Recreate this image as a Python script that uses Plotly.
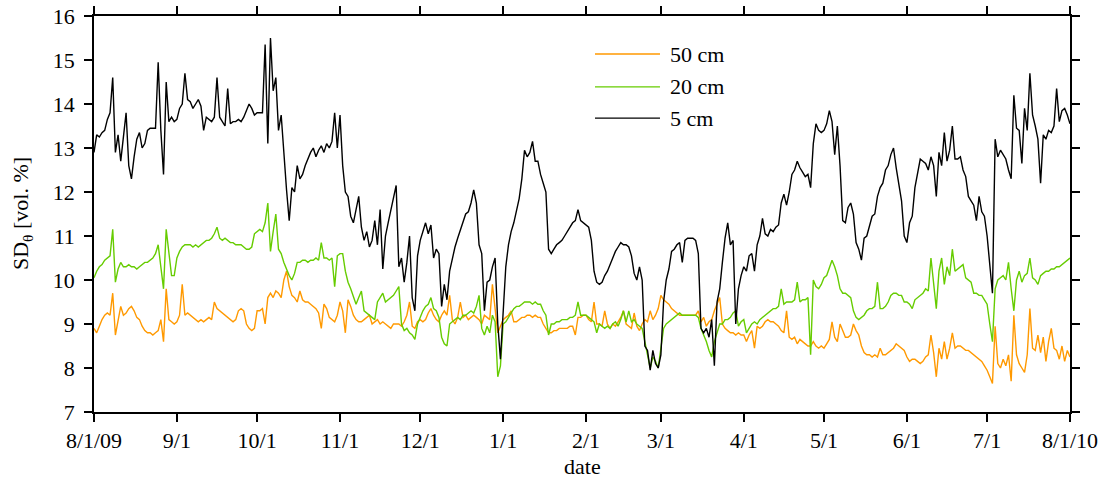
import pandas as pd
import plotly.graph_objects as go

# Daily soil-moisture standard deviation, 1 Aug 2009 - 1 Aug 2010
dates = pd.date_range("2009-08-01", "2010-08-01", freq="D")

sd_5cm = [
    12.9, 13.3, 13.25, 13.35, 13.4, 13.65, 13.8, 14.6, 12.9, 13.3,
    12.7, 13.3, 13.8, 12.6, 12.3, 12.8, 13.2, 13.35, 13.0, 13.1,
    13.4, 13.45, 13.45, 13.45, 14.95, 13.4, 12.4, 14.5, 13.6, 13.7,
    13.6, 13.65, 13.9, 14.0, 14.7, 14.1, 14.05, 13.9, 14.0, 14.1,
    13.95, 13.4, 13.7, 13.65, 13.6, 13.7, 14.6, 13.7, 13.6, 13.5,
    14.35, 13.55, 13.6, 13.6, 13.65, 13.6, 13.7, 13.85, 14.0, 13.9,
    13.75, 13.8, 13.8, 13.8, 15.35, 13.1, 15.5, 14.3, 14.6, 13.4,
    13.75, 12.85, 12.05, 11.35, 12.1, 12.0, 12.6, 12.3, 12.4, 12.6,
    12.75, 12.9, 13.0, 12.8, 12.95, 13.05, 12.9, 13.1, 13.0, 13.15,
    13.8, 13.0, 13.75, 12.6, 12.0, 11.9, 11.45, 11.3, 11.6, 11.9,
    11.2, 10.9, 11.1, 10.75, 10.9, 11.35, 10.8, 11.6, 10.25, 11.0,
    11.3, 11.6, 11.9, 12.15, 10.3, 10.5, 9.95, 10.4, 11.0, 9.6,
    9.3, 10.55, 10.9, 11.1, 11.3, 11.05, 11.25, 10.5, 10.7, 10.6,
    9.4, 9.9, 9.55, 10.2, 10.5, 10.75, 10.95, 11.15, 11.35, 11.5,
    11.55, 11.75, 12.05, 11.75, 10.8, 10.6, 9.3, 9.95, 10.0, 10.3,
    10.5, 9.0, 8.2, 9.2, 10.3, 10.8, 11.1, 11.3, 11.55, 11.85,
    12.3, 12.95, 12.8, 12.9, 13.15, 12.7, 12.7, 12.4, 12.2, 12.0,
    10.7, 10.6, 10.7, 10.8, 10.85, 10.9, 11.0, 11.1, 11.2, 11.3,
    11.35, 11.6, 11.35, 11.3, 11.25, 11.2, 10.9, 10.2, 9.95, 9.9,
    9.95, 10.1, 10.2, 10.35, 10.5, 10.65, 10.75, 10.85, 10.8, 10.8,
    10.75, 10.55, 10.15, 10.0, 10.3, 10.0, 8.5, 8.4, 7.95, 8.4,
    8.1, 8.0, 8.3, 9.5, 10.0, 10.25, 10.65, 10.7, 10.8, 10.85,
    10.4, 10.9, 10.95, 10.95, 10.95, 10.9, 10.6, 8.9, 8.8, 8.9,
    8.7, 9.1, 8.05, 9.5, 9.8, 10.4, 10.95, 11.3, 10.8, 10.9,
    9.0, 9.8, 10.1, 10.3, 10.2, 10.55, 10.6, 10.2, 10.8, 11.0,
    11.4, 11.05, 11.0, 11.15, 11.1, 11.2, 11.25, 11.75, 11.95, 11.7,
    12.0, 12.4, 12.5, 12.7, 12.55, 12.45, 12.35, 12.4, 12.1, 13.1,
    13.55, 13.4, 13.35, 13.4, 13.55, 13.85, 13.6, 12.85, 13.5, 12.6,
    11.35, 11.3, 11.65, 11.75, 11.5, 10.85, 10.7, 10.45, 10.95, 11.0,
    11.2, 11.45, 11.5, 11.9, 12.1, 12.2, 12.5, 12.6, 12.85, 13.0,
    12.55, 12.2, 11.8, 11.0, 10.85, 11.3, 11.45, 12.1, 12.4, 12.75,
    12.7, 12.65, 12.5, 12.8, 12.6, 11.9, 12.9, 12.6, 13.35, 12.7,
    12.95, 13.5, 12.75, 12.75, 12.8, 12.5, 12.35, 11.9, 11.8, 11.7,
    11.35, 11.9, 11.55, 11.45, 11.0, 10.4, 9.7, 13.2, 12.8, 12.95,
    12.85, 12.75, 12.5, 12.3, 14.2, 13.45, 13.4, 12.65, 13.9, 13.4,
    14.7, 13.75, 13.5, 13.2, 12.2, 13.3, 13.2, 13.4, 13.35, 13.5,
    14.35, 13.6, 13.85, 13.9, 13.75, 13.55,
]

sd_20cm = [
    10.05, 10.2, 10.3, 10.35, 10.45, 10.5, 10.55, 11.15, 9.95, 10.25,
    10.4, 10.3, 10.3, 10.35, 10.3, 10.3, 10.25, 10.3, 10.35, 10.4,
    10.4, 10.45, 10.5, 10.6, 10.8, 10.3, 9.8, 11.15, 10.6, 10.1,
    10.1, 10.5, 10.65, 10.75, 10.8, 10.8, 10.8, 10.75, 10.8, 10.75,
    10.8, 10.85, 10.9, 10.9, 10.95, 11.05, 11.2, 10.95, 10.9, 10.95,
    10.9, 10.85, 10.85, 10.8, 10.8, 10.8, 10.75, 10.7, 10.7, 10.75,
    11.05, 11.1, 11.15, 11.1, 11.3, 11.75, 10.65, 11.1, 11.5, 10.7,
    10.6, 10.4, 10.25, 10.1, 10.0, 10.15, 10.4, 10.4, 10.45, 10.45,
    10.4, 10.45, 10.45, 10.5, 10.45, 10.85, 10.5, 10.5, 10.45, 10.5,
    9.85, 10.55, 10.6, 10.6, 10.2, 9.95, 9.8, 9.6, 9.45, 9.6,
    9.75, 9.3, 9.25, 9.2, 9.15, 9.1, 9.5, 9.6, 9.7, 9.5,
    9.55, 9.6, 9.65, 9.75, 9.85, 9.0, 8.85, 8.9, 8.8, 8.75,
    8.65, 9.0, 9.15, 9.3, 9.4, 9.45, 9.6, 9.35, 9.3, 9.15,
    8.7, 8.55, 8.5, 9.0, 9.05, 9.1, 9.15, 9.1, 9.2, 9.2,
    9.25, 9.3, 9.25, 9.4, 9.65, 8.9, 8.75, 8.95, 8.8, 9.2,
    9.05, 7.8, 8.05, 9.0, 9.05, 9.15, 9.25, 9.35, 9.4, 9.4,
    9.45, 9.5, 9.5, 9.5, 9.45, 9.5, 9.45, 9.45, 9.3, 9.2,
    8.75, 9.0, 9.0, 9.05, 9.05, 9.1, 9.1, 9.1, 9.15, 9.15,
    9.2, 9.5, 9.2, 9.2, 9.2, 9.15, 9.1, 9.05, 8.8, 9.0,
    8.95, 8.9, 8.95, 8.9, 9.0, 9.05, 8.95, 9.1, 9.3, 9.05,
    9.3, 9.05, 9.1, 9.0, 8.95, 8.9, 8.6, 8.3, 8.0, 8.25,
    8.15, 8.0, 8.45, 8.9, 9.0, 9.05, 9.1, 9.15, 9.2, 9.25,
    9.2, 9.2, 9.2, 9.2, 9.2, 9.2, 9.15, 8.9, 8.75, 8.6,
    8.4, 8.25, 8.6, 8.8, 9.0, 9.0, 9.1, 9.1, 9.15, 9.25,
    9.3, 8.95, 9.05, 9.1, 8.8, 8.9, 9.0, 9.05, 9.0, 9.1,
    9.15, 9.2, 9.25, 9.3, 9.35, 9.35, 9.4, 9.8, 9.45, 9.5,
    9.5, 9.5, 9.55, 9.95, 9.5, 9.55, 9.55, 9.6, 8.3, 10.0,
    9.85, 9.8, 9.9, 10.05, 10.1, 10.3, 10.45, 10.3, 10.1, 9.8,
    9.7, 9.7, 9.65, 9.6, 9.3, 9.15, 9.1, 9.15, 9.2, 9.3,
    9.35, 9.35, 9.4, 9.95, 9.35, 9.35, 9.4, 9.5, 9.65, 9.7,
    9.7, 9.65, 9.65, 9.5, 9.5, 9.45, 9.35, 9.55, 9.6, 9.65,
    9.7, 9.8, 9.75, 10.5, 9.9, 9.35, 10.2, 10.5, 9.9, 10.3,
    10.1, 10.7, 10.2, 10.25, 10.3, 10.35, 10.05, 10.0, 9.95, 9.7,
    9.7, 9.65, 9.65, 9.55, 9.45, 9.0, 8.6, 9.8, 10.0, 10.05,
    10.1, 10.0, 10.4, 9.8, 9.3, 10.0, 10.2, 9.95, 10.1, 10.15,
    10.5, 10.05, 10.0, 9.9, 10.1, 10.15, 10.2, 10.2, 10.25, 10.25,
    10.3, 10.3, 10.35, 10.4, 10.45, 10.5,
]

sd_50cm = [
    8.9, 8.8, 8.95, 9.1, 9.2, 9.25, 9.2, 9.7, 8.75, 9.1,
    9.4, 9.2, 9.25, 9.35, 9.4, 9.3, 9.15, 9.1, 8.95, 8.85,
    8.8, 8.8, 8.75, 8.8, 8.85, 9.1, 8.6, 9.8, 9.1, 9.05,
    9.0, 9.05, 9.2, 9.9, 9.2, 9.25, 9.2, 9.15, 9.1, 9.05,
    9.1, 9.05, 9.1, 9.15, 9.1, 9.5, 9.35, 9.3, 9.25, 9.2,
    9.15, 9.1, 9.05, 9.1, 9.3, 9.35, 9.3, 9.0, 8.9, 8.85,
    8.9, 9.3, 9.3, 9.35, 9.0, 9.6, 9.7, 9.6, 9.75, 9.7,
    9.6, 10.0, 10.2, 9.85, 9.65, 9.6, 9.5, 9.75, 9.55, 9.5,
    9.5, 9.45, 9.4, 9.35, 9.25, 8.9, 9.45, 9.35, 9.15, 9.1,
    9.05, 9.2, 9.5, 9.3, 8.8, 9.55, 9.4, 9.2, 9.1, 9.05,
    9.05, 9.1, 9.15, 9.2, 9.0, 9.05, 9.1, 9.0, 9.05, 9.0,
    8.95, 8.9, 9.0, 9.0, 9.0, 8.95, 9.05, 9.2, 9.5, 8.95,
    8.9, 9.05, 9.1, 9.05, 9.1, 9.25, 9.35, 9.2, 9.1, 9.05,
    9.2, 9.3, 9.2, 9.65, 9.1, 9.0, 9.15, 9.5, 9.15, 9.2,
    9.1, 9.15, 9.2, 9.15, 9.1, 9.0, 9.2, 9.15, 9.1, 9.9,
    9.3, 8.8, 8.95, 9.1, 9.15, 9.2, 9.3, 9.05, 9.05, 9.1,
    9.15, 9.15, 9.2, 9.2, 9.15, 9.2, 9.15, 9.15, 9.0, 8.9,
    8.8, 8.8, 8.85, 8.85, 8.9, 8.9, 8.9, 8.9, 8.95, 8.95,
    8.75, 9.15, 9.15, 9.2, 9.2, 9.1, 9.05, 9.5, 9.0, 9.0,
    8.95, 9.3, 9.0, 8.9, 9.0, 8.95, 9.05, 9.15, 9.3, 9.0,
    8.95, 8.9, 9.25, 8.95, 8.85, 9.0, 9.1, 9.05, 9.3, 9.1,
    9.2, 9.35, 9.65, 9.55, 9.5, 9.45, 9.35, 9.3, 9.25, 9.2,
    9.2, 9.2, 9.2, 9.2, 9.2, 9.2, 9.3, 9.05, 9.15, 8.95,
    9.05, 9.1, 9.3, 9.45, 9.6, 9.0, 8.9, 8.85, 8.8, 8.8,
    8.75, 8.8, 8.75, 8.75, 8.6, 8.75, 8.85, 8.45, 8.95, 8.9,
    8.95, 9.05, 9.1, 9.05, 9.05, 9.0, 8.95, 8.85, 8.8, 9.3,
    8.7, 8.65, 8.7, 8.55, 8.65, 8.6, 8.55, 8.5, 8.5, 8.6,
    8.5, 8.45, 8.5, 8.45, 8.55, 8.65, 9.05, 8.7, 8.6, 9.0,
    8.85, 8.7, 8.7, 8.75, 9.0, 8.85, 8.75, 8.5, 8.35, 8.3,
    8.3, 8.25, 8.3, 8.25, 8.45, 8.3, 8.3, 8.35, 8.4, 8.45,
    8.55, 8.5, 8.45, 8.4, 8.25, 8.15, 8.2, 8.2, 8.15, 8.1,
    8.15, 8.25, 8.3, 8.75, 8.35, 7.8, 8.45, 8.2, 8.6, 8.2,
    8.45, 8.8, 8.45, 8.5, 8.5, 8.45, 8.4, 8.4, 8.35, 8.3,
    8.25, 8.2, 8.15, 8.05, 7.95, 7.8, 7.65, 8.95, 8.1, 8.0,
    8.2, 8.05, 8.3, 7.7, 9.2, 8.3, 8.1, 8.0, 7.9, 8.3,
    9.35, 8.45, 8.4, 8.75, 8.35, 8.7, 8.15, 8.6, 8.9, 8.45,
    8.4, 8.2, 8.5, 8.15, 8.4, 8.25,
]

series = [
    ("50 cm", sd_50cm, "#ff9900"),
    ("20 cm", sd_20cm, "#66cc00"),
    ("5 cm", sd_5cm, "#000000"),
]

tick_dates = pd.date_range("2009-08-01", "2010-08-01", freq="MS")
tick_text = ["8/1/09", "9/1", "10/1", "11/1", "12/1", "1/1", "2/1",
             "3/1", "4/1", "5/1", "6/1", "7/1", "8/1/10"]

FONT = "Liberation Serif, Times New Roman, serif"
FS = 22

fig = go.Figure()
# draw deepest first so the 5 cm trace sits on top
for name, vals, color in series:
    fig.add_trace(go.Scatter(
        x=dates, y=vals, mode="lines", name=name,
        line=dict(color=color, width=1.4), showlegend=False,
    ))

# legend drawn as long line samples with labels
legend_rows = [(0.904, "50 cm", "#ff9900"), (0.821, "20 cm", "#66cc00"),
               (0.742, "5 cm", "#000000")]
for ypos, label, color in legend_rows:
    fig.add_shape(type="line", xref="paper", yref="paper",
                  x0=0.5133, x1=0.5799, y0=ypos, y1=ypos,
                  line=dict(color=color, width=1.4))
    fig.add_annotation(x=0.588, y=ypos, xref="paper", yref="paper",
                       text=label, showarrow=False, xanchor="left",
                       yanchor="middle", font=dict(family=FONT, size=FS, color="black"))

# axis titles
fig.add_annotation(x=0.5, y=0, xref="paper", yref="paper", text="date",
                   showarrow=False, xanchor="center", yanchor="middle",
                   yshift=-54, font=dict(family=FONT, size=FS, color="black"))
fig.add_annotation(x=0, y=0.5, xref="paper", yref="paper",
                   text="SD<sub>θ</sub> [vol. %]", textangle=-90,
                   showarrow=False, xanchor="center", yanchor="middle",
                   xshift=-72, font=dict(family=FONT, size=FS, color="black"))

axis_common = dict(
    showline=True, linecolor="black", linewidth=1.5, mirror="ticks",
    ticks="outside", ticklen=8, tickwidth=1.5, tickcolor="black",
    showgrid=False, zeroline=False, automargin=False,
    tickfont=dict(family=FONT, size=FS, color="black"),
)

fig.update_layout(
    width=1107, height=478,
    margin=dict(l=94, r=37, t=16, b=66),
    paper_bgcolor="white", plot_bgcolor="white",
    font=dict(family=FONT, size=FS, color="black"),
    xaxis=dict(
        range=["2009-08-01", "2010-08-01"],
        tickvals=tick_dates, ticktext=tick_text,
        ticklabelstandoff=0,
        **axis_common,
    ),
    yaxis=dict(
        range=[7, 16], dtick=1,
        ticklabelstandoff=5,
        **axis_common,
    ),
)

fig.write_html("out.html")
